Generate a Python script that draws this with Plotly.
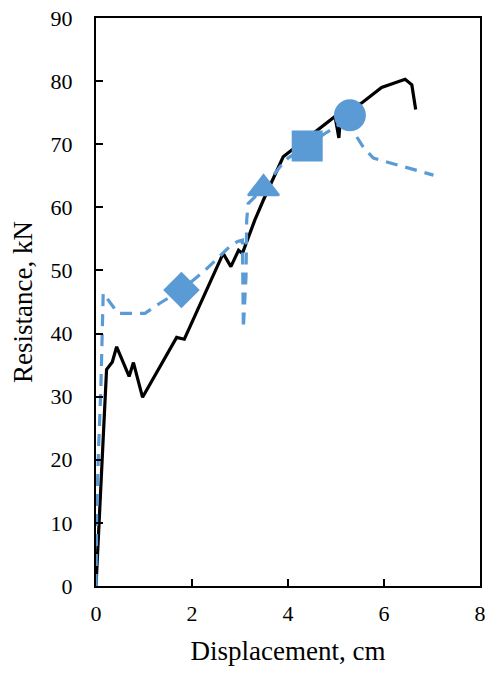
import plotly.graph_objects as go

# Black solid series
black_x = [0, 0.22, 0.34, 0.43, 0.69, 0.78, 0.97, 1.68, 1.84, 2.65, 2.81, 2.97, 3.05, 3.31, 3.49, 3.90, 4.08, 4.88, 4.98, 5.06, 5.10, 5.53, 5.95, 6.44, 6.58, 6.66]
black_y = [0, 34.3, 35.5, 37.9, 33.2, 35.4, 29.9, 39.4, 39.1, 52.7, 50.6, 53.2, 52.7, 58.0, 61.2, 68.0, 69.1, 73.8, 74.4, 71.0, 75.0, 76.5, 79.0, 80.3, 79.4, 75.5]

# Blue dashed series
blue_x = [0, 0.014, 0.05, 0.10, 0.15, 0.46, 0.78, 1.02, 1.33, 1.78, 2.24, 2.79, 2.95, 3.05, 3.07, 3.125, 3.14, 3.17, 3.49, 3.83, 4.0, 4.40, 4.77, 5.01, 5.29, 5.43, 5.57, 5.78, 7.03]
blue_y = [0, 11.5, 21.0, 31.0, 46.4, 43.2, 43.2, 43.2, 44.8, 46.9, 49.8, 53.8, 54.6, 54.8, 40.8, 49.0, 58.0, 60.6, 63.0, 66.4, 67.8, 69.7, 71.7, 72.8, 74.6, 71.2, 69.5, 67.8, 65.1]

# Marker points on the blue series
mark_x = [1.78, 3.49, 4.40, 5.29]
mark_y = [46.9, 63.0, 69.7, 74.6]
mark_symbols = ["diamond", "triangle-up", "square", "circle"]
mark_sizes = [26, 27, 29, 30]

blue = "#5B9BD5"

fig = go.Figure()
fig.add_trace(go.Scatter(x=black_x, y=black_y, mode="lines",
                         line=dict(color="black", width=3.2), showlegend=False))
fig.add_trace(go.Scatter(x=blue_x, y=blue_y, mode="lines",
                         line=dict(color=blue, width=3.2, dash="12px,8px"), showlegend=False))
fig.add_trace(go.Scatter(x=mark_x, y=mark_y, mode="markers",
                         marker=dict(symbol=mark_symbols, size=mark_sizes, color=blue, opacity=1,
                                     line=dict(color=blue, width=2)),
                         showlegend=False))

font_family = "Liberation Serif"
fig.update_layout(
    width=494, height=673,
    margin=dict(l=96, r=14, t=18, b=87, autoexpand=False),
    paper_bgcolor="white", plot_bgcolor="white",
    font=dict(family=font_family, color="black", size=22),
)
fig.update_xaxes(range=[0, 8], dtick=2, tick0=0, showgrid=False, zeroline=False,
                 showline=True, linecolor="black", linewidth=2, mirror=True,
                 ticks="inside", ticklen=7, tickwidth=2, tickcolor="black",
                 automargin=False, ticklabelstandoff=7,
                 tickfont=dict(size=22, family=font_family),
                 title=dict(text="Displacement, cm", font=dict(size=27, family=font_family), standoff=16))
fig.update_yaxes(range=[0, 90], dtick=10, tick0=0, showgrid=False, zeroline=False,
                 showline=True, linecolor="black", linewidth=2, mirror=True,
                 ticks="inside", ticklen=7, tickwidth=2, tickcolor="black",
                 automargin=False, ticklabelstandoff=17,
                 tickfont=dict(size=22, family=font_family),
                 title=dict(text="Resistance, kN", font=dict(size=27, family=font_family), standoff=10))

fig.write_html("out.html", config={"displayModeBar": False},
               post_script="document.body.style.margin='0';document.body.style.overflow='hidden';")
